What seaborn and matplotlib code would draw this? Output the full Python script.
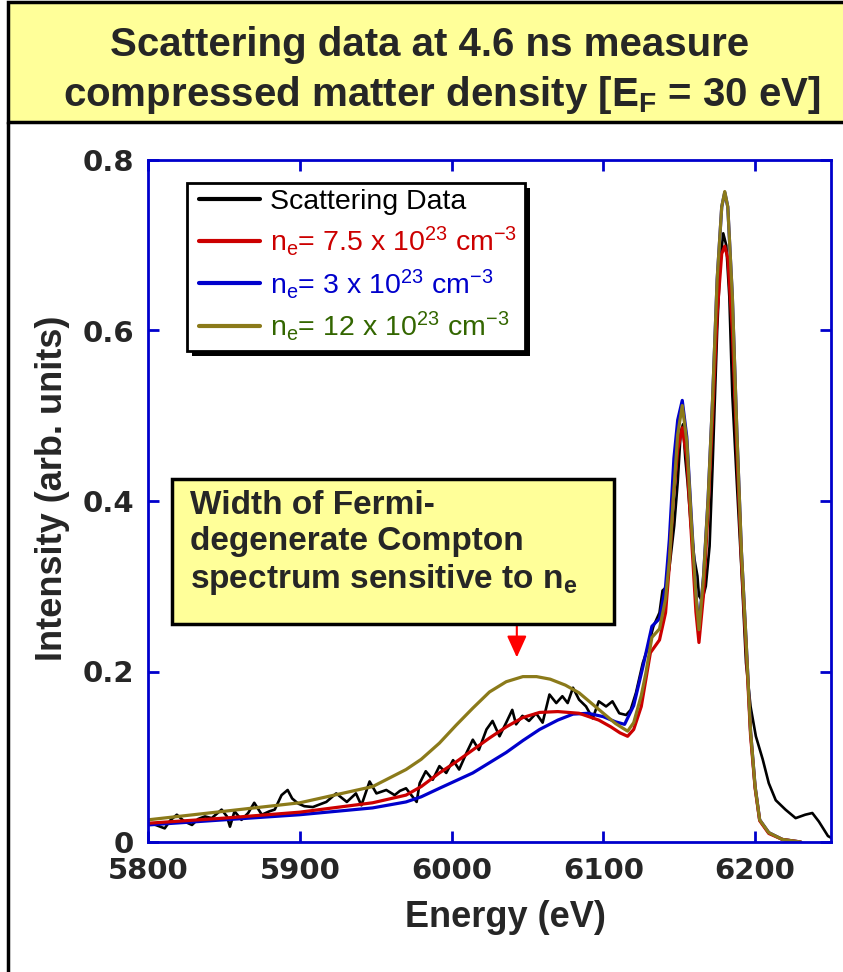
import matplotlib
matplotlib.use("Agg")
import numpy as np
import pandas as pd
import matplotlib.pyplot as plt
from matplotlib.patches import Rectangle
from matplotlib.lines import Line2D
import seaborn as sns

# =====================================
# DATA
# =====================================

data_energy = [5800, 5805, 5811, 5815, 5819, 5824, 5829, 5833, 5837.5, 5842, 5848.5, 5852, 5854, 5857,
               5861.6, 5866, 5870, 5875, 5880, 5883.5, 5888, 5892, 5895, 5899, 5903, 5908.6, 5913, 5917.5,
               5924, 5931, 5937, 5940.6, 5946, 5950.5, 5957, 5962.5, 5966, 5970, 5977, 5979, 5983, 5987.6,
               5992, 5996.5, 6001, 6005, 6009.7, 6014, 6018, 6023, 6027, 6031.6, 6036, 6040, 6042.5, 6046.7,
               6051, 6055.7, 6060, 6064.5, 6069, 6073, 6076.5, 6080, 6084, 6088.6, 6093, 6097, 6101.8, 6106,
               6110.5, 6115, 6118, 6121.5, 6126, 6129, 6133, 6137, 6139, 6141, 6143.4, 6146.7, 6149, 6151,
               6152.5, 6154, 6155.5, 6157.7, 6160, 6162, 6163, 6165, 6167.5, 6170, 6172, 6175, 6177, 6179,
               6181, 6183, 6185, 6188, 6191, 6194, 6197, 6200.5, 6205, 6209, 6213.6, 6220, 6226.7, 6233,
               6237.7, 6242, 6248, 6250]
data_intensity = [0.022, 0.020, 0.016, 0.026, 0.032, 0.024, 0.020, 0.027, 0.030, 0.028, 0.038, 0.030, 0.018, 0.036,
                  0.026, 0.034, 0.046, 0.032, 0.036, 0.038, 0.055, 0.061, 0.051, 0.045, 0.042, 0.041, 0.044, 0.047,
                  0.057, 0.047, 0.057, 0.043, 0.071, 0.057, 0.061, 0.055, 0.060, 0.063, 0.047, 0.069, 0.083, 0.073,
                  0.089, 0.081, 0.096, 0.085, 0.104, 0.120, 0.108, 0.132, 0.142, 0.124, 0.140, 0.155, 0.138, 0.148,
                  0.142, 0.151, 0.140, 0.173, 0.163, 0.171, 0.163, 0.181, 0.167, 0.159, 0.145, 0.165, 0.159, 0.165,
                  0.151, 0.149, 0.155, 0.175, 0.210, 0.226, 0.253, 0.269, 0.295, 0.298, 0.320, 0.371, 0.422, 0.481,
                  0.490, 0.450, 0.422, 0.371, 0.332, 0.312, 0.289, 0.283, 0.300, 0.347, 0.442, 0.600, 0.680, 0.714,
                  0.700, 0.640, 0.524, 0.420, 0.320, 0.210, 0.159, 0.124, 0.097, 0.069, 0.049, 0.038, 0.028, 0.032,
                  0.034, 0.024, 0.007, 0.005]

red_energy = [5800, 5850, 5900, 5948, 5970, 5980, 5992, 6003, 6014, 6025, 6036, 6047, 6058, 6070, 6084, 6097,
              6105, 6111, 6116, 6120, 6125, 6131, 6137, 6141, 6143.5, 6146, 6149, 6152, 6155, 6158, 6161, 6163,
              6166, 6169, 6172, 6175, 6178, 6180, 6182, 6185, 6188, 6191, 6194, 6197, 6200, 6203, 6209, 6218, 6230]
red_intensity = [0.022, 0.028, 0.035, 0.046, 0.055, 0.065, 0.081, 0.094, 0.108, 0.122, 0.135, 0.146, 0.152, 0.153,
                 0.151, 0.143, 0.135, 0.128, 0.124, 0.132, 0.159, 0.222, 0.237, 0.269, 0.324, 0.400, 0.460, 0.486,
                 0.450, 0.360, 0.270, 0.234, 0.290, 0.390, 0.500, 0.620, 0.690, 0.699, 0.685, 0.600, 0.460, 0.330,
                 0.230, 0.125, 0.063, 0.025, 0.010, 0.003, 0.000]

blue_energy = [5800, 5850, 5900, 5948, 5970, 5980, 5992, 6003, 6014, 6025, 6036, 6047, 6058, 6070, 6080, 6090,
               6100, 6108, 6114, 6120, 6126, 6132, 6137, 6141, 6143.5, 6146.5, 6149, 6152, 6155, 6158, 6161, 6163,
               6166, 6169, 6172, 6175, 6178, 6180, 6182, 6185, 6188, 6191, 6194, 6197, 6200, 6203, 6209, 6218, 6230]
blue_intensity = [0.020, 0.026, 0.032, 0.040, 0.047, 0.053, 0.063, 0.072, 0.081, 0.093, 0.105, 0.119, 0.132, 0.143,
                  0.150, 0.151, 0.147, 0.141, 0.138, 0.160, 0.205, 0.253, 0.262, 0.300, 0.355, 0.450, 0.495, 0.518,
                  0.475, 0.380, 0.290, 0.252, 0.312, 0.402, 0.520, 0.660, 0.745, 0.762, 0.745, 0.640, 0.480, 0.340,
                  0.238, 0.130, 0.065, 0.026, 0.011, 0.003, 0.000]

olive_energy = [5800, 5850, 5900, 5948, 5970, 5980, 5992, 6003, 6014, 6025, 6036, 6047, 6056, 6065, 6075, 6084,
                6092, 6100, 6108, 6116, 6120, 6125, 6128, 6132, 6137, 6141, 6143.5, 6146, 6149, 6152, 6155, 6158,
                6161, 6163, 6166, 6169, 6172, 6175, 6178, 6180, 6182, 6185, 6188, 6191, 6194, 6197, 6200, 6203,
                6209, 6218, 6230]
olive_intensity = [0.026, 0.036, 0.046, 0.065, 0.085, 0.097, 0.116, 0.137, 0.157, 0.176, 0.188, 0.194, 0.194, 0.191,
                   0.184, 0.175, 0.163, 0.151, 0.139, 0.130, 0.140, 0.172, 0.198, 0.240, 0.250, 0.285, 0.330, 0.400,
                   0.478, 0.512, 0.470, 0.375, 0.290, 0.249, 0.310, 0.400, 0.520, 0.660, 0.745, 0.763, 0.745, 0.640,
                   0.480, 0.340, 0.238, 0.130, 0.065, 0.026, 0.011, 0.003, 0.000]

series_names = ["Scattering Data",
                "n$_\\mathrm{e}$= 7.5 x 10$^{23}$ cm$^{-3}$",
                "n$_\\mathrm{e}$= 3 x 10$^{23}$ cm$^{-3}$",
                "n$_\\mathrm{e}$= 12 x 10$^{23}$ cm$^{-3}$"]
line_colors = ["#000000", "#CC0000", "#0000CC", "#8B7A1A"]
text_colors = ["#000000", "#CC0000", "#0000CC", "#336600"]

x_ticks = [5800, 5900, 6000, 6100, 6200]
y_ticks = [0, 0.2, 0.4, 0.6, 0.8]
y_tick_labels = ["0", "0.2", "0.4", "0.6", "0.8"]

# =====================================
# FIGURE
# =====================================

W, H = 843, 972
sns.set_theme(style="white")
plt.rcParams['font.family'] = ['Liberation Sans', 'DejaVu Sans']
plt.rcParams['mathtext.fontset'] = 'custom'
plt.rcParams['mathtext.rm'] = 'Liberation Sans'
plt.rcParams['mathtext.bf'] = 'Liberation Sans:bold'
plt.rcParams['mathtext.it'] = 'Liberation Sans:italic'

fig = plt.figure(figsize=(W / 100, H / 100), dpi=100)
fig.patch.set_facecolor("white")
ax = fig.add_axes([148 / W, 1 - 842 / H, (831 - 148) / W, (842 - 160) / H])

frames = [
    pd.DataFrame({"energy": data_energy, "intensity": data_intensity, "series": series_names[0]}),
    pd.DataFrame({"energy": blue_energy, "intensity": blue_intensity, "series": series_names[2]}),
    pd.DataFrame({"energy": red_energy, "intensity": red_intensity, "series": series_names[1]}),
    pd.DataFrame({"energy": olive_energy, "intensity": olive_intensity, "series": series_names[3]}),
]
df = pd.concat(frames, ignore_index=True)
palette = dict(zip(series_names, line_colors))
draw_order = [series_names[0], series_names[2], series_names[1], series_names[3]]

sns.lineplot(data=df, x="energy", y="intensity", hue="series", hue_order=draw_order,
             palette=palette, estimator=None, sort=False, legend=False, ax=ax, linewidth=2.3)
lines = dict(zip(draw_order, ax.lines))
lines[series_names[0]].set_linewidth(1.9)

ax.set_xlim(5800, 6250)
ax.set_ylim(0, 0.8)
ax.set_xticks(x_ticks)
ax.set_yticks(y_ticks, y_tick_labels)
ax.grid(False)
ax.set_facecolor("white")
for sp in ax.spines.values():
    sp.set_color("#0000CC")
    sp.set_linewidth(2.0)
ax.tick_params(direction="in", length=8, width=2.0, color="#0000CC", top=True, right=True,
               bottom=True, left=True, labelsize=21)
ax.tick_params(axis="x", pad=11)
ax.tick_params(axis="y", pad=10)
for lbl in ax.get_xticklabels() + ax.get_yticklabels():
    lbl.set_fontfamily("DejaVu Sans")
    lbl.set_fontweight("bold")

ax.set_xlabel("Energy (eV)", fontsize=26, fontweight="bold")
ax.set_ylabel("Intensity (arb. units)", fontsize=26, fontweight="bold")
ax.xaxis.set_label_coords((505 - 148) / 683, -(900 - 842) / 682)
ax.yaxis.set_label_coords((70 - 148) / 683, (842 - 488) / 682)

# legend with hand drawn frame + shadow
tf = fig.transFigure
def fbox(x0, y0, x1, y1):
    return (x0 / W, 1 - y1 / H), (x1 - x0) / W, (y1 - y0) / H

xy, w, h = fbox(192, 188, 530, 356)
ax.add_patch(Rectangle(xy, w, h, transform=tf, facecolor="black", edgecolor="none", zorder=4, clip_on=False))
xy, w, h = fbox(187, 183, 525, 351)
ax.add_patch(Rectangle(xy, w, h, transform=tf, facecolor="white", edgecolor="black", lw=2, zorder=4.5, clip_on=False))

handles = [lines[n] for n in series_names]
leg = ax.legend(handles, series_names, loc="upper left",
                bbox_to_anchor=((199 - 148) / 683, (842 - 189) / 682),
                frameon=False, fontsize=20.5, handlelength=2.15, handletextpad=0.35,
                labelspacing=0.32, borderaxespad=0, borderpad=0)
leg.set_zorder(6)
for txt, c in zip(leg.get_texts(), text_colors):
    txt.set_color(c)
for hl, c in zip(leg.get_lines(), line_colors):
    hl.set_linewidth(3)

# annotation box
xy, w, h = fbox(172, 479, 614, 624)
ax.add_patch(Rectangle(xy, w, h, transform=tf, facecolor="#FFFF99", edgecolor="black", lw=2.5, zorder=6, clip_on=False))
ax.text(190 / W, 1 - 490 / H,
        "Width of Fermi-\ndegenerate Compton\nspectrum sensitive to n$_\\mathbf{e}$",
        transform=tf, ha="left", va="top", fontsize=24, fontweight="bold", linespacing=1.2, zorder=7)
ax.annotate("", xy=(6043, 0.2165), xytext=(6043, 0.2635),
            arrowprops=dict(arrowstyle="-|>,head_width=0.25,head_length=0.55", color="red",
                            lw=1.5, mutation_scale=24, shrinkA=0, shrinkB=0))

# title banner
fig.add_artist(Rectangle((8 / W, 1 - 122 / H), (850 - 8) / W, (122 - 2) / H, transform=tf,
                         facecolor="#FFFF99", edgecolor="black", lw=2.5))
fig.add_artist(Line2D([8 / W, 8 / W], [0, 1 - 122 / H], transform=tf, color="black", lw=2.5))
fig.text(430 / W, 1 - 45 / H, "Scattering data at 4.6 ns measure",
         ha="center", va="center", fontsize=29, fontweight="bold")
fig.text(442 / W, 1 - 95 / H, "compressed matter density [E$_\\mathbf{F}$ = 30 eV]",
         ha="center", va="center", fontsize=29, fontweight="bold")

fig.savefig("out.png", dpi=100)
